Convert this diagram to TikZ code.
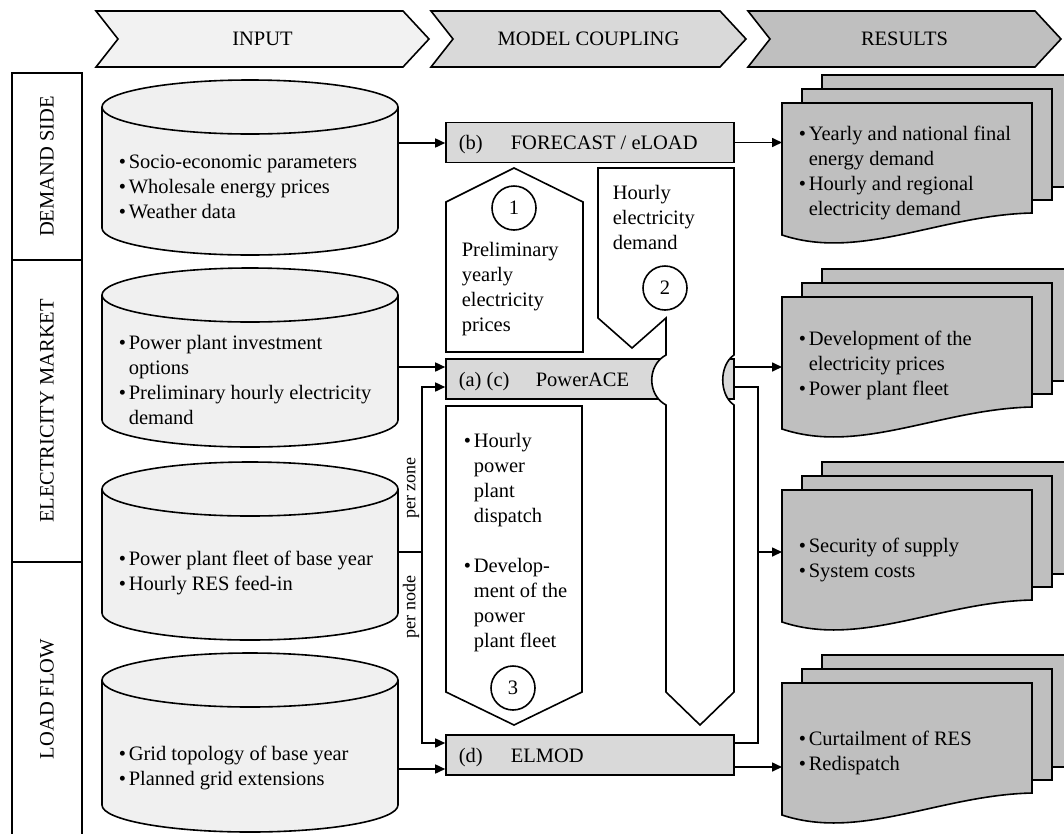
\documentclass[tikz,border=0pt]{standalone}
\usepackage{fontspec}
\setmainfont{Liberation Serif}
\usetikzlibrary{arrows.meta}

\definecolor{chevA}{HTML}{F2F2F2}
\definecolor{chevB}{HTML}{D9D9D9}
\definecolor{chevC}{HTML}{BFBFBF}
\definecolor{cylfill}{HTML}{F0F0F0}
\definecolor{modfill}{HTML}{D9D9D9}
\definecolor{docfill}{HTML}{BFBFBF}

\newcommand{\bitem}{\makebox[10pt][l]{\textbullet}}
\newcommand{\bcont}{\hspace*{10pt}}

% input cylinder: #1 = top, #2 = bottom
\newcommand{\incyl}[2]{%
  \draw[fill=cylfill] (102,#1+27) -- (102,#2-27)
    arc[start angle=180, end angle=0, x radius=148, y radius=27]
    -- (398,#1+27)
    arc[start angle=0, end angle=-180, x radius=148, y radius=27] -- cycle;
  \draw (102,#1+27) arc[start angle=180, end angle=0, x radius=148, y radius=27];}

% stack of result sheets: #1 = top of front sheet, #2 = name
\newcommand{\resdoc}[2]{%
  \draw[fill=docfill] (822,#1-28) rectangle (1072,#1+84);
  \draw[fill=docfill] (802,#1-14) rectangle (1052,#1+97);
  \draw[fill=docfill] (782,#1) -- (1032,#1) -- (1032,#1+110)
    .. controls (940,#1+112) and (860,#1+158) .. (782,#1+132) -- cycle;
  \coordinate (#2) at (782,#1+66);}

\begin{document}
\begin{tikzpicture}[x=1pt, y=-1pt, line width=1.6pt,
  every node/.style={font=\fontsize{20.5}{25}\selectfont},
  rowbox/.style={draw, rotate=90, minimum height=70, inner sep=0pt},
  model/.style={draw, fill=modfill, minimum width=288, minimum height=40, inner sep=0pt},
  mlbl/.style={anchor=base west, inner sep=0pt},
  intext/.style={anchor=west, align=left, inner sep=0pt},
  num/.style={draw, circle, fill=white, minimum size=44, inner sep=0pt},
  vlbl/.style={rotate=90, anchor=south, inner sep=2pt, font=\fontsize{18}{22}\selectfont},
  arr/.style={-{Triangle[length=10pt,width=9pt]}}
]
  \useasboundingbox (0,0) rectangle (1064,833);

  % header chevrons
  \foreach \l/\r/\c/\t in {96/403/chevA/INPUT, 431/720/chevB/MODEL COUPLING, 748/1035/chevC/RESULTS} {
    \draw[fill=\c] (\l,11) -- (\r,11) -- (\r+26,39) -- (\r,67) -- (\l,67) -- (\l+22,39) -- cycle;
    \node (h\c) at ({(\l+\r)/2+13},39) {\t};
  }

  % row labels
  \node[rowbox, minimum width=187] (dem) at (47,166.5) {DEMAND SIDE};
  \node[rowbox, minimum width=302] (elm) at (47,411) {ELECTRICITY MARKET};
  \node[rowbox, minimum width=274] (lfl) at (47,699) {LOAD FLOW};

  % inputs
  \incyl{80}{255}
  \incyl{268}{447}
  \incyl{462}{640}
  \incyl{653}{832}
  \node[intext] (c1) at (118,187) {\bitem Socio-economic parameters\\
    \bitem Wholesale energy prices\\ \bitem Weather data};
  \node[intext] (c2) at (118,379.5) {\bitem Power plant investment\\
    \bcont options\\ \bitem Preliminary hourly electricity\\ \bcont demand};
  \node[intext] (c3) at (118,572.5) {\bitem Power plant fleet of base year\\
    \bitem Hourly RES feed-in};
  \node[intext] (c4) at (118,767.5) {\bitem Grid topology of base year\\
    \bitem Planned grid extensions};
  \coordinate (c1o) at (398,143);
  \coordinate (c2o) at (398,367);
  \coordinate (c3o) at (398,552);
  \coordinate (c4o) at (398,769);

  % models
  \node[model] (fc) at (590,142.5) {};
  \node[mlbl] (fcb) at (458,149.5) {(b)};
  \node[mlbl] (fcn) at (510,149.5) {FORECAST / eLOAD};
  \node[model] (pa) at (590,379) {};
  \node[mlbl] (pab) at (458,386) {(a) (c)};
  \node[mlbl] (pan) at (535,386) {PowerACE};
  \node[model] (el) at (590,755) {};
  \node[mlbl] (elb) at (458,762) {(d)};
  \node[mlbl] (eln) at (510,762) {ELMOD};

  % coupling arrows
  \draw[fill=white] (446,352) -- (446,202) -- (514,168) -- (583,202) -- (583,352) -- cycle;
  \node[num] (k1) at (514,208) {1};
  \node[intext] (p1) at (461,289.5) {Preliminary\\yearly\\electricity\\prices};

  \draw[fill=white] (598,168) -- (734,168) -- (734,355)
    .. controls (719,365) and (719,395) .. (734,405) -- (734,692) -- (700,725)
    -- (666,692) -- (666,405) .. controls (647,395) and (647,365) .. (666,355)
    -- (666,318) -- (632,348) -- (598,318) -- cycle;
  \node[intext] (p2) at (612,217) {Hourly\\electricity\\demand};
  \node[num] (k2) at (665,288) {2};

  \draw[fill=white] (446,406) -- (582,406) -- (582,692) -- (514,725) -- (446,692) -- cycle;
  \node[intext] (p3) at (463,542.5) {\bitem Hourly\\ \bcont power\\ \bcont plant\\
    \bcont dispatch\\[25pt] \bitem Develop-\\ \bcont ment of the\\ \bcont power\\
    \bcont plant fleet};
  \node[num] (k3) at (513,688) {3};

  % results
  \resdoc{103}{d1}
  \resdoc{297}{d2}
  \resdoc{490}{d3}
  \resdoc{683}{d4}
  \node[intext] (r1) at (798,173) {\bitem Yearly and national final\\
    \bcont energy demand\\ \bitem Hourly and regional\\ \bcont electricity demand};
  \node[intext] (r2) at (798,365) {\bitem Development of the\\
    \bcont electricity prices\\ \bitem Power plant fleet};
  \node[intext] (r3) at (798,559.5) {\bitem Security of supply\\ \bitem System costs};
  \node[intext] (r4) at (798,752.5) {\bitem Curtailment of RES\\ \bitem Redispatch};

  % connectors
  \draw[arr] (c1o) -- (c1o -| fc.west);
  \draw[arr] (fc.east) -- (fc.east -| d1);
  \draw[arr] (c2o) -- (c2o -| pa.west);
  \coordinate (sp) at (422,552);
  \draw (c3o) -- (sp);
  \draw[arr] (sp) |- ([yshift=-8pt]pa.west);
  \draw[arr] (sp) |- ([yshift=12pt]el.west);
  \draw[arr] (c4o) -- (c4o -| el.west);
  \node[vlbl] (pz) at (422,488) {per zone};
  \node[vlbl] (pn) at (422,607) {per node};

  \draw[arr] ([yshift=12pt]pa.east) -- ([yshift=12pt]pa.east -| d2);
  \coordinate (jn) at (758,552);
  \draw ([yshift=-8pt]pa.east) -| (jn) |- ([yshift=12pt]el.east);
  \draw[arr] (jn) -- (jn -| d3);
  \draw[arr] ([yshift=-12pt]el.east) -- ([yshift=-12pt]el.east -| d4);
\end{tikzpicture}
\end{document}
